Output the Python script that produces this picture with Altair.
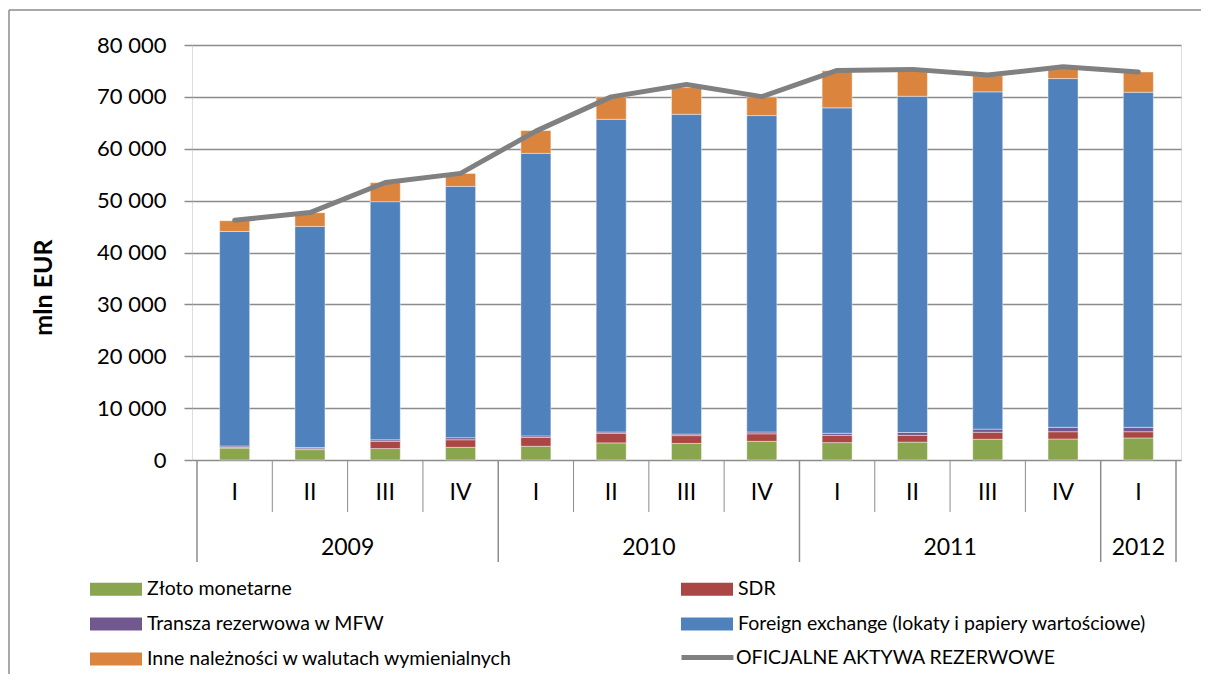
import altair as alt
import pandas as pd

quarters = ["I", "II", "III", "IV", "I", "II", "III", "IV", "I", "II", "III", "IV", "I"]
years = ["2009"] * 4 + ["2010"] * 4 + ["2011"] * 4 + ["2012"]

s_gold = "Złoto monetarne"
s_sdr = "SDR"
s_mfw = "Transza rezerwowa w MFW"
s_fx = "Foreign exchange (lokaty i papiery wartościowe)"
s_other = "Inne należności w walutach wymienialnych"
s_total = "OFICJALNE AKTYWA REZERWOWE"

gold = [2300, 2000, 2200, 2450, 2650, 3300, 3200, 3600, 3350, 3450, 4000, 4050, 4250]
sdr = [150, 150, 1400, 1450, 1700, 1850, 1500, 1450, 1400, 1300, 1350, 1400, 1200]
mfw = [250, 250, 300, 400, 300, 250, 300, 350, 400, 550, 600, 850, 850]
fx = [41360, 42630, 45900, 48450, 54470, 60280, 61640, 60990, 62730, 64820, 65020, 67230, 64590]
other = [2060, 2640, 3660, 2500, 4380, 4320, 5150, 3600, 7150, 5000, 3100, 2200, 3900]
total = [46200, 47700, 53500, 55250, 63400, 70000, 72400, 70050, 75100, 75300, 74200, 75800, 74800]

# stacking order (bottom to top)
bar_names = [s_gold, s_sdr, s_mfw, s_fx, s_other]
bar_colors = ["#89A54E", "#AA4643", "#71588F", "#4F81BD", "#DB843D"]
# legend fills column by column: this order reads row by row in two columns
legend_order = [s_gold, s_mfw, s_other, s_sdr, s_fx]
legend_colors = [bar_colors[bar_names.index(n)] for n in legend_order]
line_color = "#808080"

FONT = "Lato"
GRID = "#8c8c8c"

idx = list(range(len(quarters)))
rows = []
for o, (name, vals) in enumerate(zip(bar_names, [gold, sdr, mfw, fx, other])):
    for i, v in enumerate(vals):
        rows.append({"idx": i, "series": name, "value": v, "ord": o})
bars_df = pd.DataFrame(rows)
line_df = pd.DataFrame({"idx": idx, "series": s_total, "value": total})
q_df = pd.DataFrame({"idx": idx, "q": quarters})

year_rows = []
for y in dict.fromkeys(years):
    pos = [i for i, yy in enumerate(years) if yy == y]
    year_rows.append({"idx": sum(pos) / len(pos), "year": y})
year_df = pd.DataFrame(year_rows)

sep_rows = []
for k in range(-1, len(quarters)):
    edge = k == -1 or k == len(quarters) - 1 or years[k] != years[k + 1]
    sep_rows.append({"idx": k + 0.5, "long": edge})
sep_df = pd.DataFrame(sep_rows)

W, H = 989, 415
xscale = alt.Scale(domain=[-0.5, len(quarters) - 0.5], nice=False, zero=False)

fill_legend = alt.Legend(
    title=None,
    orient="none",
    legendX=-102,
    legendY=531,
    columns=2,
    columnPadding=168,
    rowPadding=12,
    symbolType="M-1,-0.5H3V0.5H-1Z",
    symbolSize=676,
    symbolStrokeWidth=0,
    symbolOpacity=1,
    labelFont=FONT,
    labelFontSize=19.5,
    labelColor="black",
    labelOffset=31,
    labelLimit=600,
)

stroke_legend = alt.Legend(
    title=None,
    orient="none",
    legendX=487,
    legendY=584,
    symbolType="stroke",
    symbolSize=2704,
    symbolStrokeWidth=5,
    symbolOpacity=1,
    labelFont=FONT,
    labelFontSize=19.5,
    labelColor="black",
    labelOffset=0,
    labelLimit=600,
)

yaxis = alt.Axis(
    values=list(range(0, 80001, 10000)),
    labelExpr="replace(format(datum.value, ',d'), ',', ' ')",
    labelFont=FONT,
    labelFontSize=22,
    labelColor="black",
    labelPadding=18,
    tickSize=8,
    tickColor=GRID,
    tickWidth=1.5,
    domain=False,
    grid=True,
    gridColor=GRID,
    gridWidth=1.5,
    title="mln EUR",
    titleFont=FONT,
    titleFontSize=25,
    titleFontWeight="bold",
    titleColor="black",
    titleAngle=270,
    titleX=-149,
    titleY=242,
    titleAlign="center",
    titleBaseline="middle",
)

bars = alt.Chart(bars_df).mark_bar(size=30, stroke="white", strokeWidth=0.7, strokeOpacity=0.6).encode(
    x=alt.X("idx:Q", scale=xscale, axis=None),
    y=alt.Y("value:Q", stack="zero", scale=alt.Scale(domain=[0, 80000], nice=False), axis=yaxis),
    fill=alt.Fill("series:N", scale=alt.Scale(domain=legend_order, range=legend_colors), legend=fill_legend),
    order=alt.Order("ord:Q", sort="ascending"),
)

line = alt.Chart(line_df).mark_line(strokeWidth=5, strokeCap="round", strokeJoin="round").encode(
    x=alt.X("idx:Q", scale=xscale, axis=None),
    y=alt.Y("value:Q"),
    stroke=alt.Stroke("series:N", scale=alt.Scale(domain=[s_total], range=[line_color]), legend=stroke_legend),
)

seps_short = alt.Chart(sep_df).transform_filter("!datum.long").mark_rule(color=GRID, strokeWidth=1).encode(
    x=alt.X("idx:Q", scale=xscale, axis=None),
    y=alt.value(H),
    y2=alt.value(H + 52),
)
seps_long = alt.Chart(sep_df).transform_filter("datum.long").mark_rule(color=GRID, strokeWidth=1.5).encode(
    x=alt.X("idx:Q", scale=xscale, axis=None),
    y=alt.value(H),
    y2=alt.value(H + 102),
)

qtext = alt.Chart(q_df).mark_text(font=FONT, fontSize=23, color="black", baseline="middle", align="center").encode(
    x=alt.X("idx:Q", scale=xscale, axis=None),
    y=alt.value(H + 33),
    text="q:N",
)
ytext = alt.Chart(year_df).mark_text(font=FONT, fontSize=23, color="black", baseline="middle", align="center").encode(
    x=alt.X("idx:Q", scale=xscale, axis=None),
    y=alt.value(H + 88),
    text="year:N",
)

frame_data = alt.Data(values=[{"a": 1}])
frame_left = alt.Chart(frame_data).mark_rule(color=GRID, strokeWidth=1.5).encode(
    x=alt.value(-183), y=alt.value(-35), y2=alt.value(H + 230)
)
frame_top = alt.Chart(frame_data).mark_rule(color=GRID, strokeWidth=1.5).encode(
    x=alt.value(-183), x2=alt.value(W + 60), y=alt.value(-35)
)

chart = (
    alt.layer(frame_left, frame_top, bars, line, seps_short, seps_long, qtext, ytext)
    .resolve_legend(fill="independent", stroke="independent")
    .properties(
        width=W,
        height=H,
        autosize=alt.AutoSizeParams(type="none"),
        padding={"left": 184, "top": 37, "right": 20, "bottom": 214},
    )
    .configure_view(stroke=GRID, strokeWidth=1.5)
    .configure(background="white")
)

chart.save("out.html", embed_options={"renderer": "svg", "actions": False})
